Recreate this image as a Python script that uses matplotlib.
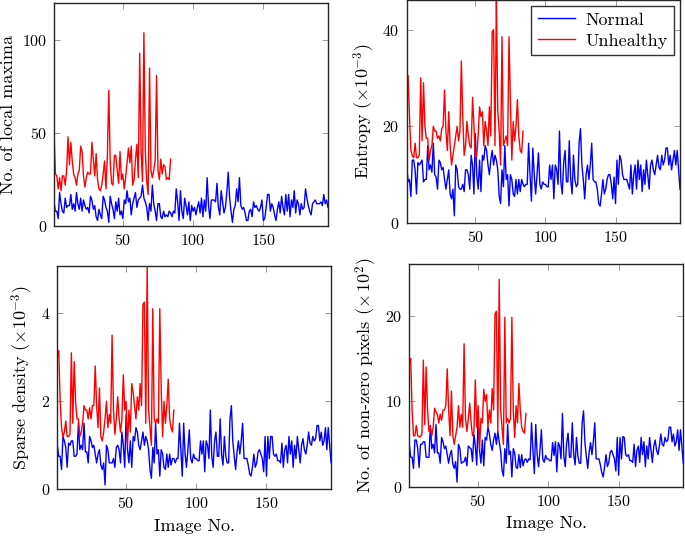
import matplotlib
matplotlib.use("Agg")
import matplotlib.pyplot as plt
import numpy as np

plt.rcParams["font.family"] = "serif"
plt.rcParams["font.serif"] = ["cmr10"]
plt.rcParams["mathtext.fontset"] = "cm"
plt.rcParams["axes.formatter.use_mathtext"] = True

# --- data ---
normal_maxima = [
    13, 8, 8, 4, 18, 12, 8, 7, 15, 10, 11, 11, 17, 9, 12, 8, 18, 12, 9, 15,
    8, 14, 11, 9, 10, 7, 16, 14, 9, 11, 5, 3, 9, 6, 4, 16, 14, 10, 8, 2,
    16, 12, 9, 4, 13, 8, 15, 6, 8, 4, 14, 12, 19, 13, 15, 6, 12, 15, 18, 10,
    14, 15, 16, 22, 15, 13, 10, 3, 12, 8, 22, 12, 8, 3, 12, 12, 5, 4, 8, 5,
    6, 5, 8, 7, 5, 8, 7, 20, 13, 3, 19, 8, 4, 15, 11, 6, 13, 3, 11, 8,
    10, 6, 10, 13, 7, 15, 5, 14, 8, 26, 11, 4, 14, 14, 14, 13, 23, 10, 6, 19,
    13, 7, 10, 18, 29, 15, 8, 2, 9, 11, 20, 13, 26, 11, 9, 10, 7, 3, 3, 8,
    9, 5, 13, 10, 11, 9, 8, 10, 14, 3, 4, 10, 17, 17, 8, 12, 10, 6, 3, 9,
    13, 7, 16, 10, 6, 17, 8, 17, 5, 14, 10, 19, 7, 14, 12, 6, 12, 9, 10, 20,
    15, 11, 8, 6, 12, 13, 14, 12, 12, 12, 13, 11, 17, 12, 14, 10]
unhealthy_maxima = [
    52, 28, 27, 20, 26, 19, 27, 27, 22, 30, 48, 33, 45, 35, 28, 26, 22, 28, 30, 43,
    40, 27, 21, 26, 29, 28, 28, 45, 36, 27, 39, 25, 20, 19, 22, 28, 35, 20, 38, 73,
    35, 23, 22, 38, 38, 30, 23, 40, 25, 28, 20, 26, 34, 42, 34, 43, 22, 25, 36, 44,
    26, 93, 40, 24, 104, 40, 24, 17, 85, 30, 26, 30, 35, 81, 30, 25, 36, 28, 33, 32,
    25, 26, 25, 36]

normal_entropy = [
    12, 8.5, 9, 5.5, 13, 13, 11, 6, 12.5, 12, 12.5, 13, 8.5, 9, 9, 16, 11, 12, 10.5, 16.5,
    10, 9.5, 7, 13, 12.5, 11, 11.5, 9, 7, 9, 11, 6, 5, 7, 1.5, 12, 11, 7.5, 7, 7,
    8, 6.5, 11, 11, 10, 7, 14, 12, 6, 18.5, 10, 7, 13, 6.5, 14, 13, 16, 15, 12, 10,
    13, 15, 12, 14, 13, 11, 5.5, 4, 11, 7.5, 16, 9, 10, 3.5, 10, 9, 6, 5.5, 9, 6,
    9, 6.5, 9, 8, 7.5, 8, 8, 16.5, 10, 4.5, 15.5, 10, 6, 10, 14.5, 8, 7, 8.5, 8, 8,
    7.5, 7.5, 12, 9, 12, 5, 12, 11, 8, 19, 8.5, 6, 12.5, 15, 8.5, 8.5, 17, 9, 6, 14,
    9, 7.5, 8, 16.5, 19.5, 12, 9, 5, 10, 12, 9, 12, 16.5, 9, 8.5, 8.5, 7, 4, 3.5, 6,
    9, 6, 7, 9, 10, 10, 8, 5, 9.5, 4, 13, 8, 14, 13, 10, 9, 9, 9, 8, 7,
    12, 6, 10, 12, 7, 13, 9, 12, 6.5, 11, 8, 13, 10, 7, 12, 13, 11, 10, 12, 14,
    11.5, 11, 14, 12, 13, 15.5, 15.5, 12, 14, 11, 13, 15, 12, 15, 11, 7]
unhealthy_entropy = [
    29, 30.5, 22, 15, 14, 13.5, 16.5, 13.5, 13.5, 14, 30, 17, 29, 20, 17.5, 17.5, 13, 15, 16, 20,
    19, 19, 17.5, 18, 17, 19.5, 20, 27.5, 19, 15, 23, 16, 12, 14, 16, 18, 20, 17, 19, 33.5,
    22, 14, 16, 21, 18, 16, 15.5, 26, 20, 13.5, 14, 18, 24, 22, 23, 16, 21, 19, 16, 24,
    18, 39.5, 40, 16, 46.5, 23, 19, 12, 38.5, 16, 17, 18, 16, 38.5, 25, 13, 21, 17, 20, 25.5,
    18, 15, 14.5, 19]

normal_sparse = [
    1.0, 0.75, 0.75, 0.45, 1.2, 1.1, 0.95, 0.5, 1.05, 1.0, 1.1, 1.1, 0.75, 0.75, 0.8, 1.5, 0.9, 1.0, 0.9, 1.5,
    0.85, 0.85, 0.6, 1.2, 1.1, 0.95, 1.0, 0.8, 0.6, 0.8, 0.9, 0.55, 0.45, 0.6, 0.1, 1.0, 0.9, 0.6, 0.6, 0.6,
    0.7, 0.5, 0.95, 1.0, 0.9, 0.6, 1.3, 1.0, 0.5, 1.7, 0.9, 0.6, 1.1, 0.5, 1.2, 1.1, 1.4, 1.3, 1.0, 0.9,
    1.1, 1.3, 1.0, 1.2, 1.1, 0.9, 0.45, 0.25, 0.95, 0.6, 1.5, 0.8, 0.9, 0.3, 0.9, 0.8, 0.5, 0.45, 0.8, 0.5,
    0.8, 0.55, 0.7, 0.7, 0.6, 0.7, 0.7, 1.5, 0.9, 0.3, 1.5, 0.8, 0.5, 0.9, 1.35, 0.7, 0.6, 0.8, 0.7, 0.7,
    0.65, 0.65, 1.1, 0.8, 1.1, 0.4, 1.1, 1.0, 0.7, 1.8, 0.75, 0.5, 1.1, 1.3, 0.75, 0.75, 1.6, 0.8, 0.55, 1.2,
    0.75, 0.6, 0.6, 1.6, 1.9, 1.1, 0.75, 0.45, 0.85, 1.1, 0.8, 1.1, 1.5, 0.7, 0.7, 0.7, 0.55, 0.35, 0.3, 0.5,
    0.8, 0.5, 0.6, 0.85, 0.9, 0.8, 0.7, 0.4, 1.2, 0.3, 1.2, 0.7, 1.2, 1.2, 0.8, 0.75, 0.8, 0.65, 0.65, 0.6,
    1.05, 0.5, 0.9, 1.0, 0.6, 1.2, 0.8, 1.1, 0.5, 1.0, 0.7, 1.2, 0.9, 0.6, 1.0, 1.15, 0.9, 0.8, 1.0, 1.3,
    1.05, 1.0, 1.2, 1.1, 1.15, 1.45, 1.45, 1.1, 1.3, 1.0, 1.1, 1.4, 0.9, 1.4, 1.0, 0.6]
unhealthy_sparse = [
    3.0, 3.15, 2.0, 1.4, 1.2, 1.3, 1.55, 1.2, 1.2, 1.25, 3.1, 1.5, 2.9, 2.0, 1.6, 1.6, 1.2, 1.3, 1.5, 1.9,
    1.8, 1.8, 1.6, 1.85, 1.6, 1.9, 1.9, 2.8, 1.9, 1.4, 2.3, 1.2, 1.1, 1.3, 1.6, 2.0, 1.4, 1.7, 1.5, 3.5,
    1.8, 1.25, 1.6, 2.1, 1.6, 1.3, 1.6, 2.6, 1.8, 2.0, 1.0, 1.8, 1.3, 2.4, 2.2, 1.9, 1.6, 2.1, 1.8, 2.4,
    1.9, 4.2, 4.25, 1.5, 5.07, 1.8, 1.4, 1.0, 4.1, 1.6, 1.5, 1.6, 1.5, 4.1, 2.3, 1.2, 2.0, 1.5, 1.9, 2.5,
    1.6, 1.4, 1.3, 1.8]

normal_pixels = [
    5, 3.5, 3.5, 2.2, 5.5, 5.5, 4.5, 2.3, 5, 5, 5.3, 5.3, 3.5, 3.5, 3.5, 7.2, 4.5, 5, 4, 7.3,
    4, 4, 2.8, 5.8, 5.3, 4.5, 4.8, 3.8, 2.8, 3.8, 4.3, 2.7, 2.2, 3, 0.6, 5, 4.5, 2.8, 2.9, 3,
    3.5, 2.5, 4.8, 4.6, 4.5, 3, 6.2, 4.8, 2.6, 8.2, 4.3, 2.8, 5.5, 2.5, 5.8, 5.5, 7, 6.2, 5, 4.3,
    5.5, 6.3, 5, 6.5, 5.3, 4.2, 2, 1.3, 4.5, 2.8, 7.3, 3.8, 4.2, 1.2, 4.5, 4, 2.3, 2.2, 3.8, 2.3,
    3.8, 2.5, 3.2, 3.3, 2.9, 3.3, 3.2, 7.5, 4.3, 1.6, 7.3, 3.8, 2.4, 4.3, 6.7, 3.3, 2.9, 3.7, 3.3, 3.3,
    3.1, 3.1, 5.2, 3.7, 5.3, 1.8, 5.2, 4.8, 3.3, 8.6, 3.6, 2.4, 5.2, 6.3, 3.5, 3.5, 7.5, 3.8, 2.6, 5.8,
    3.6, 2.8, 2.8, 7.5, 8.9, 5.2, 3.6, 2.2, 4.1, 5.2, 3.8, 5.3, 7.5, 3.3, 3.3, 3.3, 2.6, 1.7, 1.2, 2.4,
    3.8, 2.4, 2.9, 4.1, 4.3, 3.8, 3.3, 1.9, 5.8, 1.4, 5.8, 3.3, 5.9, 5.8, 3.8, 3.6, 3.8, 3.1, 3.1, 2.9,
    5, 2.4, 4.3, 4.8, 2.9, 5.8, 3.8, 5.3, 2.4, 4.8, 3.3, 5.8, 4.3, 2.9, 4.8, 5.5, 4.3, 3.8, 4.8, 6.2,
    5, 4.8, 5.8, 5.3, 5.5, 7, 7, 5.3, 6.2, 4.8, 5.3, 6.7, 4.3, 6.7, 4.8, 2.8]
unhealthy_pixels = [
    14.5, 15, 9, 6, 6, 7.2, 6, 5.9, 5.9, 6.2, 14.8, 7.3, 14, 9, 6.5, 7, 6, 7, 9.2, 8.8,
    8.5, 7.5, 8.5, 7.8, 9, 9, 9.5, 13.8, 9, 6, 11.2, 6, 5, 6, 7, 9.5, 7, 8.5, 7, 16.7,
    8, 6.5, 8, 9.8, 7.5, 6, 6.5, 12.5, 7, 9.5, 4.5, 8, 7.5, 11.4, 10, 10.8, 7, 9, 7.5, 11.5,
    9, 20.2, 20.5, 6.5, 24.2, 9, 7, 5, 19.8, 7.5, 8, 7.5, 8, 19.8, 9, 5.8, 9.5, 7.5, 12.1, 9,
    7, 6.5, 6.3, 8.6]

panels = [
    (normal_maxima, unhealthy_maxima, "No. of local maxima", 120, [0, 50, 100],
     [0.0788, 0.5791, 0.400, 0.4153]),
    (normal_entropy, unhealthy_entropy, r"Entropy ($\times10^{-3}$)", 46, [0, 20, 40],
     [0.5937, 0.5847, 0.399, 0.4144]),
    (normal_sparse, unhealthy_sparse, r"Sparse density ($\times10^{-3}$)", 5.07, [0, 2, 4],
     [0.0837, 0.0888, 0.3996, 0.4158]),
    (normal_pixels, unhealthy_pixels, r"No. of non-zero pixels ($\times\,10^{2}$)", 26, [0, 10, 20],
     [0.5975, 0.0926, 0.400, 0.4158]),
]

fig = plt.figure(figsize=(6.85, 5.37), dpi=100)
for i, (normal, unhealthy, ylabel, ymax, yticks, pos) in enumerate(panels):
    ax = fig.add_axes(pos)
    ax.plot(np.arange(1, len(normal) + 1), normal, color="blue", lw=1.0, label="Normal")
    ax.plot(np.arange(1, len(unhealthy) + 1), unhealthy, color="red", lw=1.0, label="Unhealthy")
    ax.set_xlim(1, 196)
    ax.set_ylim(0, ymax)
    ax.set_xticks([50, 100, 150])
    ax.set_yticks(yticks)
    ax.tick_params(direction="in", top=True, right=True, length=4, width=0.6,
                   color="0.55", labelsize=11.5, pad=5)
    for sp in ax.spines.values():
        sp.set_linewidth(1.0)
        sp.set_color("0.15")
    ax.set_ylabel(ylabel, fontsize=13, labelpad=4)
    if i >= 2:
        ax.set_xlabel("Image No.", fontsize=13, labelpad=5)
    if i == 1:
        leg = ax.legend(loc="upper right", bbox_to_anchor=(0.978, 0.977), fontsize=13,
                        frameon=True, fancybox=False, edgecolor="black", borderaxespad=0,
                        handlelength=2.05, labelspacing=0.3, borderpad=0.35,
                        handletextpad=0.6)
        leg.get_frame().set_linewidth(1.0)

fig.savefig("out.png", dpi=100)
